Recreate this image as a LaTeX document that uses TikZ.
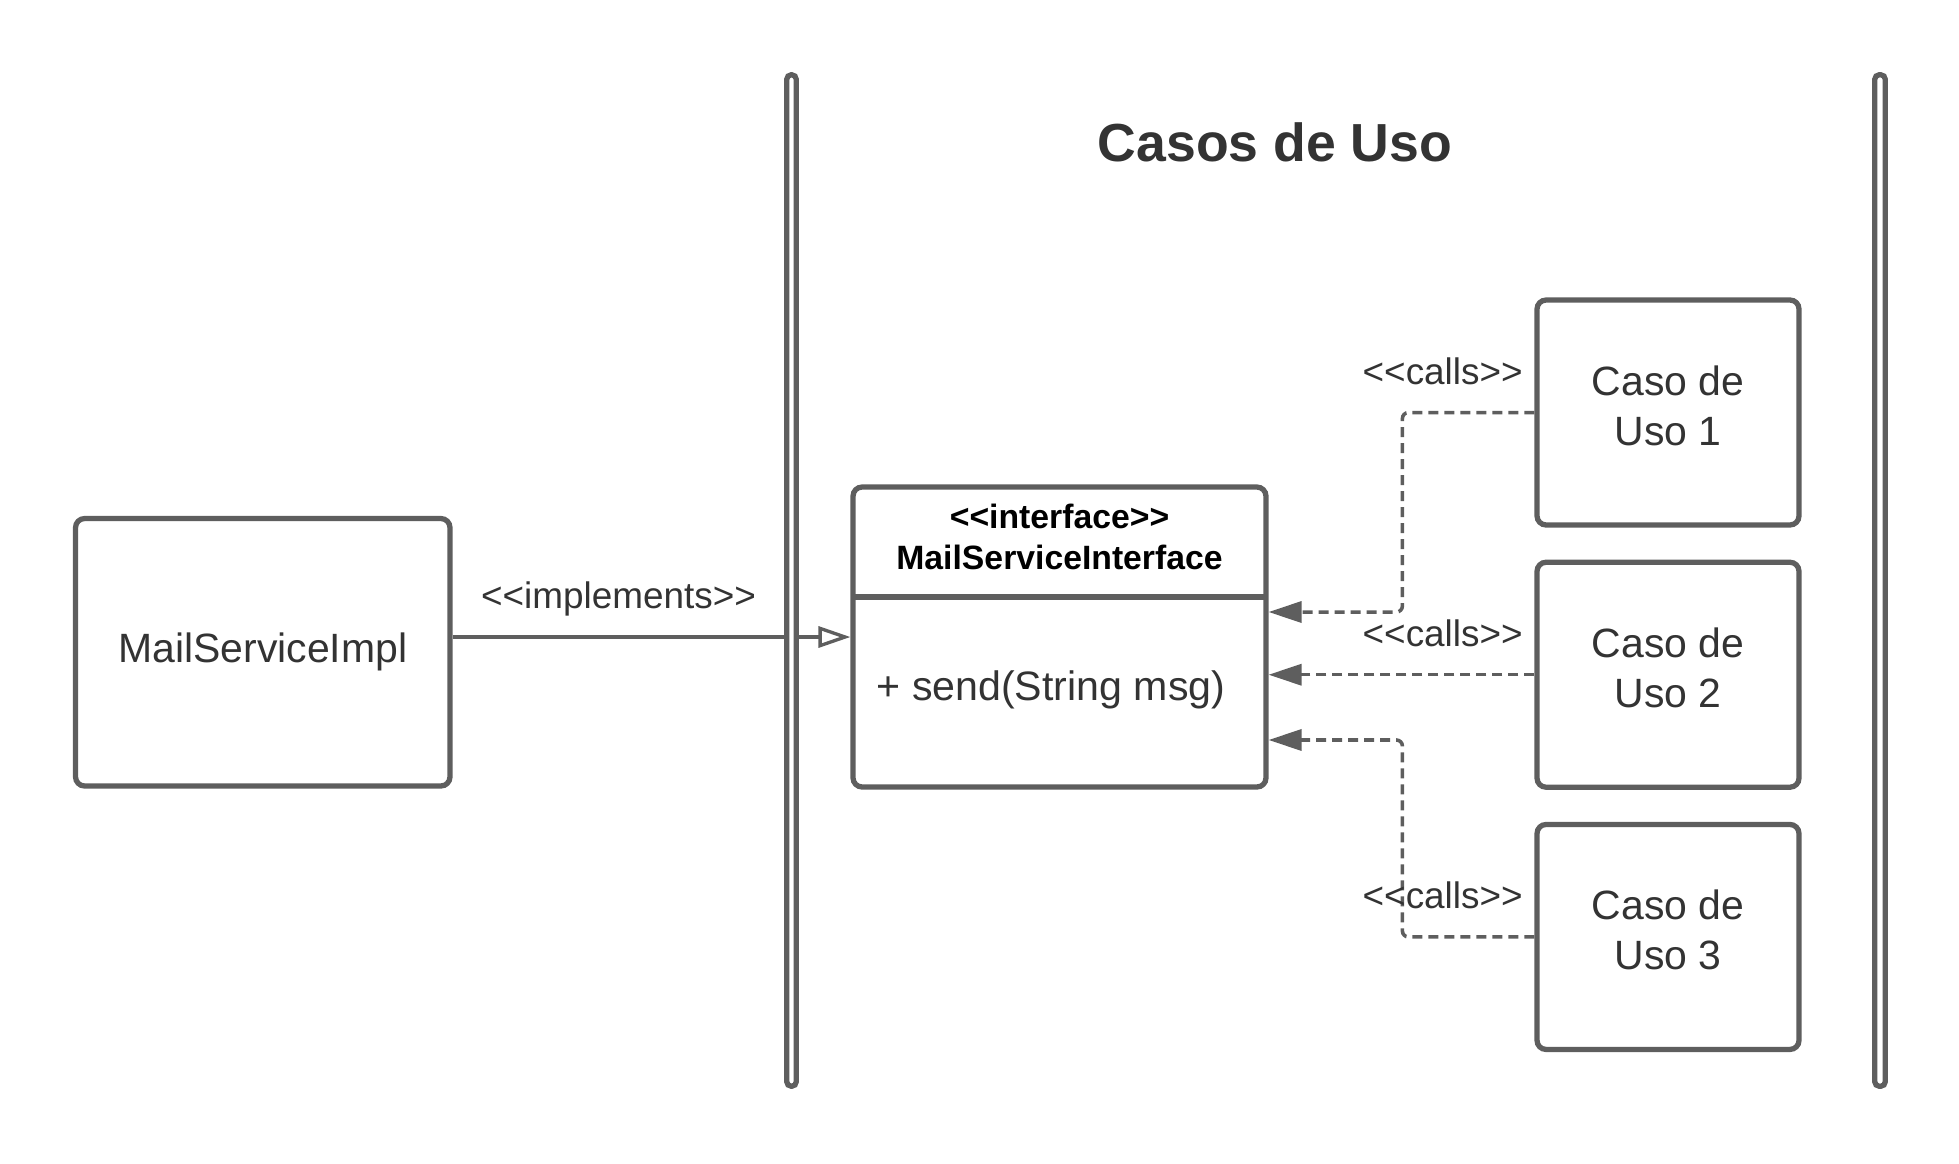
\documentclass[tikz,border=0pt]{standalone}
\usepackage{fontspec}
\setmainfont{Liberation Sans}
\usetikzlibrary{positioning, arrows.meta}
\definecolor{lineg}{HTML}{5E5E5E}
\definecolor{txtg}{HTML}{333333}
\newcommand{\stL}{<\kern0pt<}
\newcommand{\stR}{>\kern0pt>}

\begin{document}
\begin{tikzpicture}[x=0.02cm, y=-0.02cm,
  box/.style={draw=lineg, line width=3pt, rounded corners=0.18cm, fill=white,
    text=txtg, align=center, font=\fontsize{23.3}{28.5}\selectfont},
  caso/.style={box, minimum width=5.24cm, minimum height=4.5cm, text depth=0.28cm},
  lbl/.style={text=txtg, inner sep=0pt, font=\fontsize{21}{25}\selectfont},
  Impl/.style={draw=lineg, line width=1.9pt, -{Triangle[open, length=0.64cm, width=0.42cm]}},
  Call/.style={draw=lineg, line width=2pt, dash pattern=on 0.2cm off 0.12cm,
    rounded corners=0.12cm, -{Triangle[length=0.66cm, width=0.42cm]}},
  bar/.style={draw=lineg, line width=3pt, fill=white, rounded corners=0.09cm}]
  \useasboundingbox (0,0) rectangle (1959,1163);
  \node [anchor=base, text=txtg, font=\bfseries\fontsize{30.5}{36}\selectfont] (title) at (1275,161.7) {Casos de Uso};
  \node [box, minimum width=7.49cm, minimum height=5.35cm] (impl) at (262.75,652.25) {MailServiceImpl};
  % interface box: header part + method part
  \node [box, minimum width=8.26cm, minimum height=6cm] (iface) at (1059.5,637) {};
  \node [anchor=north, minimum width=8.26cm, minimum height=2.25cm, inner sep=0pt, outer sep=0pt,
    align=center, text depth=0.14cm, font=\bfseries\fontsize{19.2}{23.4}\selectfont] (ihead) at (iface.north)
    {\stL interface\stR\\MailServiceInterface};
  \draw [lineg, line width=3pt] (ihead.south west) -- (ihead.south east);
  \node [anchor=base west, inner sep=0pt, text=txtg, font=\fontsize{23.4}{28}\selectfont] (meth)
    at ([shift={(26,63)}]iface.west) {+ send(String msg)};
  % use cases
  \node [caso] (c1) at (1668,412.5) {Caso de\\Uso 1};
  \node [caso, below=0.64cm of c1] (c2) {Caso de\\Uso 2};
  \node [caso, below=0.64cm of c2] (c3) {Caso de\\Uso 3};
  \draw [Impl] (impl.east |- iface.west) -- node [lbl, pos=0.417, yshift=0.77cm] {\stL implements\stR} (iface.west);
  \draw [Call] (c1.west) node [lbl, anchor=east, shift={(-10,-41.5)}] {\stL calls\stR}
    -- ++(-132,0) |- ([yshift=0.5cm]iface.east);
  \draw [Call] (c2.west) node [lbl, anchor=east, shift={(-10,-41.5)}] {\stL calls\stR}
    -- (c2.west -| iface.east);
  \draw [Call] (c3.west) node [lbl, anchor=east, shift={(-10,-41.5)}] {\stL calls\stR}
    -- ++(-132,0) |- ([yshift=-2.06cm]iface.east);
  % boundaries
  \draw [bar] (786.75,74.75) rectangle (796.25,1086.25);
  \draw [bar] (1874.75,74.75) rectangle (1885.25,1086.25);
\end{tikzpicture}
\end{document}
